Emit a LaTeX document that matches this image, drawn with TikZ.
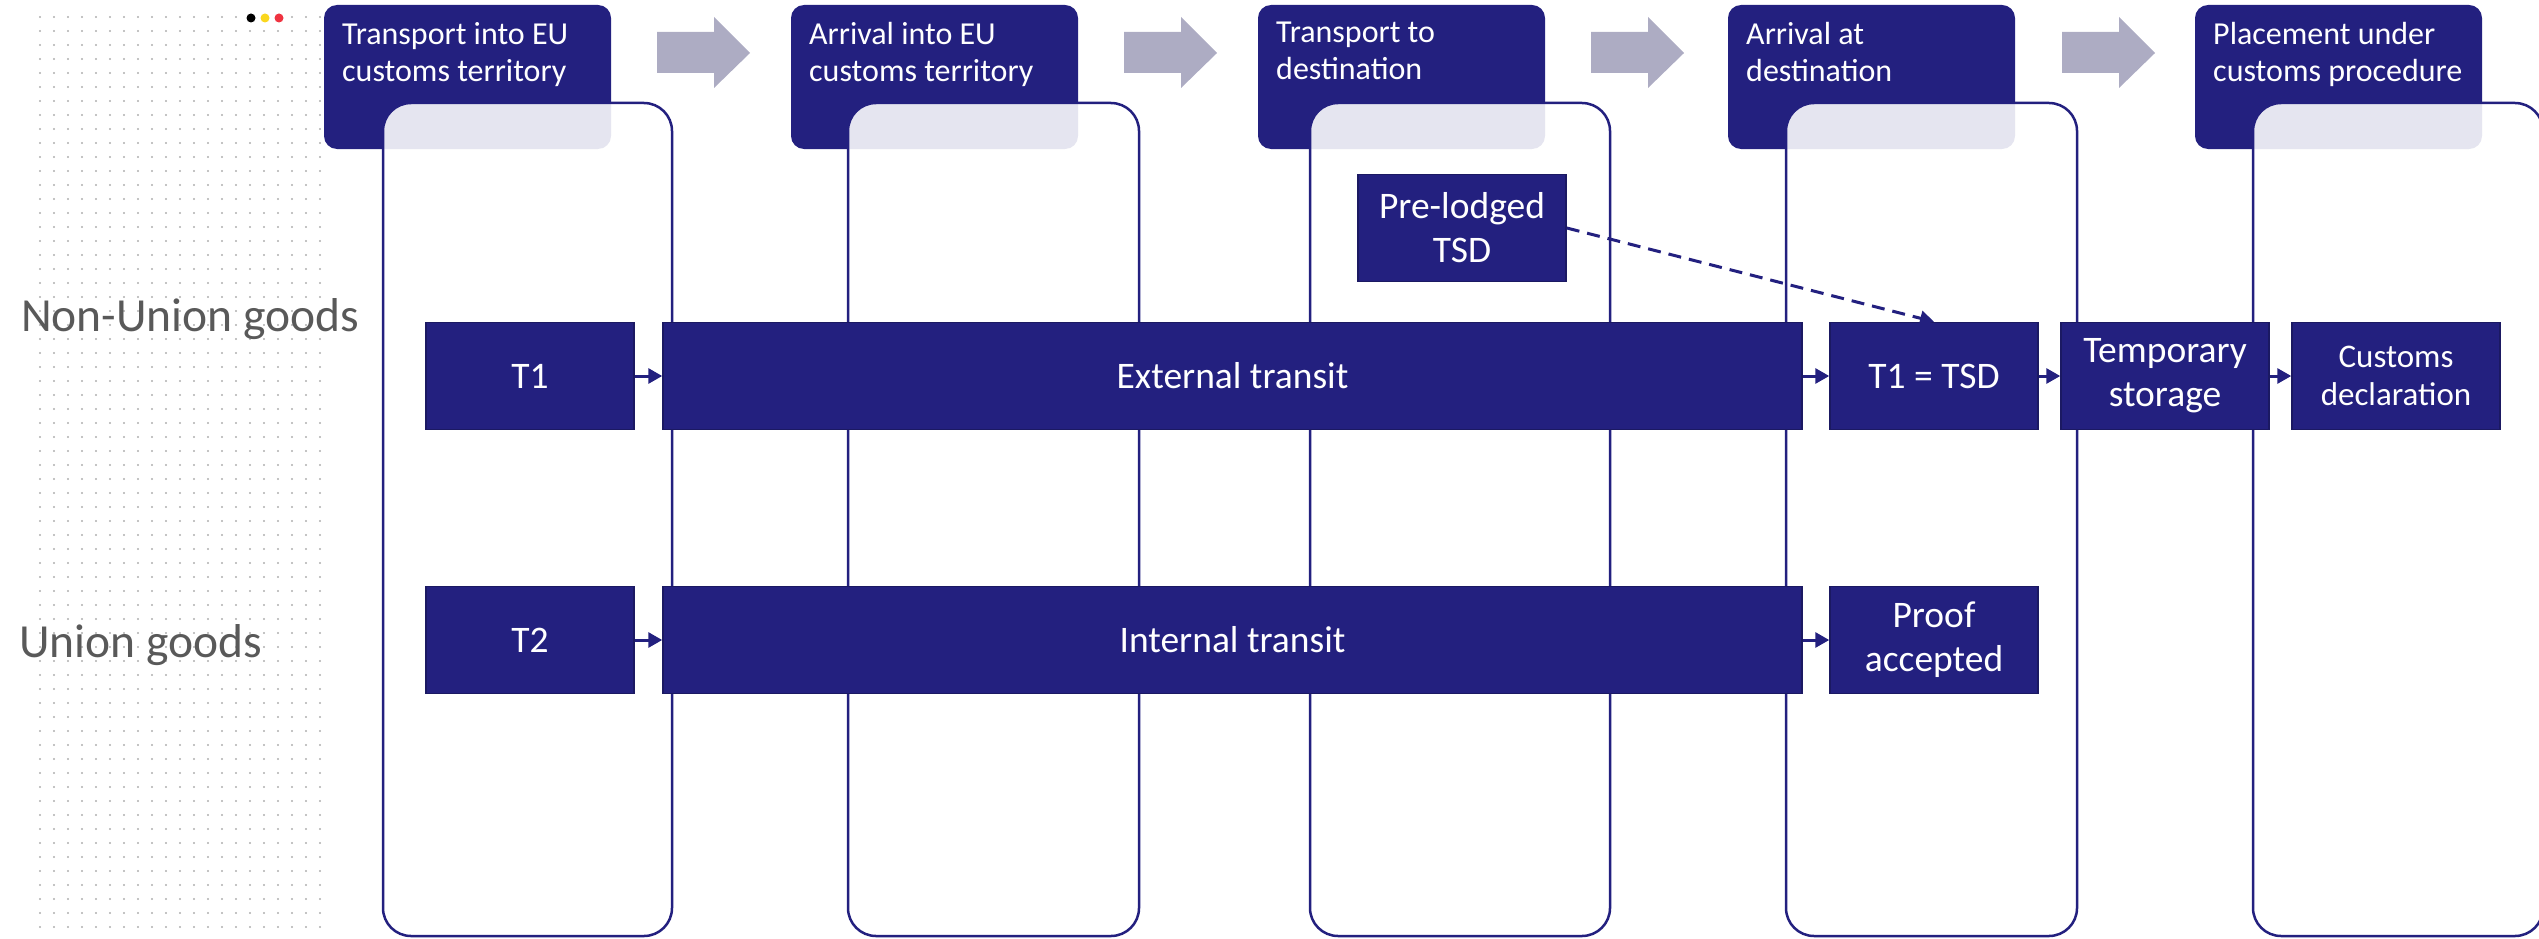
\documentclass[tikz,border=0pt]{standalone}
\usepackage{fontspec}
\setmainfont{Carlito}
\usetikzlibrary{positioning,arrows.meta}
\definecolor{navyColor}{RGB}{35,32,127}
\definecolor{navyEdge}{RGB}{27,25,98}
\definecolor{arrowGray}{RGB}{173,172,195}
\definecolor{labelGray}{RGB}{89,89,89}
\definecolor{dotGray}{RGB}{175,175,175}
\definecolor{flagYellow}{RGB}{250,215,30}
\definecolor{flagRed}{RGB}{239,51,64}
\tikzstyle{stage} = [x = 1pt, y = -1pt]
\tikzstyle{headerStyle} = [fill=navyColor, rounded corners = 13pt]
\tikzstyle{headerText} = [anchor=north west, inner sep=0pt, text=white, align=left, font=\fontsize{32}{37}\selectfont]
\tikzstyle{columnStyle} = [draw=navyColor, line width=2.5pt, fill=white, fill opacity=0.885, rounded corners = 28pt]
\tikzstyle{stageArrowStyle} = [fill=arrowGray]
\tikzstyle{stepBox} = [fill=navyColor, draw=navyEdge, line width=1.5pt, text=white, minimum width=208pt, minimum height=107pt, inner sep=0pt, align=center, font=\fontsize{37.5}{44}\selectfont]
\tikzstyle{smallText} = [font=\fontsize{33}{38}\selectfont]
\tikzstyle{flowArrow} = [-{Triangle[length=14pt, width=15pt]}, draw=navyColor, line width=3pt]
\tikzstyle{rowLabel} = [anchor=base west, inner sep=0pt, text=labelGray, font=\fontsize{47.5}{54}\selectfont]
\tikzstyle{dotStyle} = [fill=dotGray]
\newcommand{\stageHeader}[3]{\fill [headerStyle] (#1,5) rectangle +(287,144); \node [headerText] (#2) at (#1 + 18, 22) {#3};}
\newcommand{\stageColumn}[2]{\filldraw [columnStyle] (#1,103) rectangle (#2,936);}
\newcommand{\stageArrow}[1]{\fill [stageArrowStyle] (#1,32) -- ++(57,0) -- ++(0,-15) -- ++(36,36) -- ++(-36,35) -- ++(0,-15) -- ++(-57,0) -- cycle;}
\newcommand{\dotGrid}[2]{
  \foreach \column in {0,...,#1} {
    \foreach \row in {0,...,#2} {
      \fill [dotStyle] (40 + 14 * \column, 17 + 14 * \row) circle (1.1pt);
    }
  }
}
\begin{document}
\begin{tikzpicture}[stage]
\useasboundingbox (0,0) rectangle (2539,939);
\dotGrid{20}{65}
\fill [black] (251,18) circle (4.5pt);
\fill [flagYellow] (265,18) circle (4.5pt);
\fill [flagRed] (279,18) circle (4.5pt);
\stageHeader{324}{head1}{Transport into EU\\customs territory}
\stageHeader{791}{head2}{Arrival into EU\\customs territory}
\stageHeader{1258}{head3}{Transport to\\destination}
\stageHeader{1728}{head4}{Arrival at\\destination}
\stageHeader{2195}{head5}{Placement under\\customs procedure}
\stageColumn{383}{672}
\stageColumn{848}{1139}
\stageColumn{1310}{1610}
\stageColumn{1786}{2077}
\stageColumn{2253}{2543}
\stageArrow{657}\stageArrow{1124}\stageArrow{1591}\stageArrow{2062}
\node [rowLabel] (nonUnion) at (21,331) {Non-Union goods};
\node [rowLabel] (union) at (19,657) {Union goods};
\node [stepBox] (t1) at (530,376) {T1};
\node [stepBox, minimum width=1139pt] (external) at (1232.5,376) {External transit};
\node [stepBox] (tsd) at (1934,376) {T1 = TSD};
\node [stepBox] (storage) at (2165,376) {Temporary\\storage};
\node [stepBox, smallText] (declaration) at (2396,376) {Customs\\declaration};
\node [stepBox] (preLodged) at (1462,228) {Pre-lodged\\TSD};
\node [stepBox] (t2) at (530,640) {T2};
\node [stepBox, minimum width=1139pt] (internal) at (1232.5,640) {Internal transit};
\node [stepBox] (proof) at (1934,640) {Proof\\accepted};
\draw [flowArrow] (t1) -- (external);
\draw [flowArrow] (external) -- (tsd);
\draw [flowArrow] (tsd) -- (storage);
\draw [flowArrow] (storage) -- (declaration);
\draw [flowArrow] (t2) -- (internal);
\draw [flowArrow] (internal) -- (proof);
\draw [flowArrow, dash pattern=on 13pt off 8pt] (preLodged.east) -- (tsd.north);
\end{tikzpicture}
\end{document}
